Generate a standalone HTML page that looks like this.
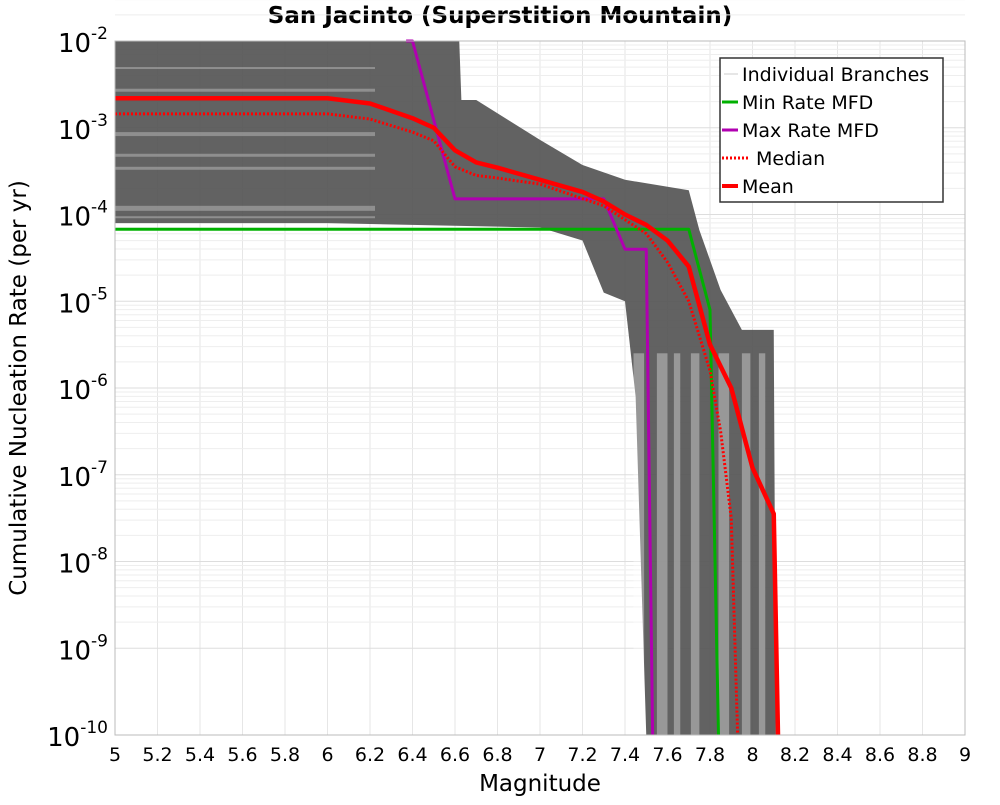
<!DOCTYPE html>
<html><head><meta charset="utf-8"><style>
body{margin:0;background:#fff;font-family:"Liberation Sans","DejaVu Sans",sans-serif}
svg text{font-family:"DejaVu Sans","Liberation Sans",sans-serif}
</style></head><body>
<svg id="chart" width="1000" height="800" xmlns="http://www.w3.org/2000/svg">
<text x="500" y="23" text-anchor="middle" font-size="23" font-weight="bold">San Jacinto (Superstition Mountain)</text>
<g id="grid"></g>
<g id="marks"></g>
<rect x="115" y="41" width="850" height="694" fill="none" stroke="#bbb" stroke-width="1"/>
<g id="ticks"></g>
<text x="540" y="791" text-anchor="middle" font-size="23">Magnitude</text>
<text transform="translate(26,388) rotate(-90)" text-anchor="middle" font-size="23">Cumulative Nucleation Rate (per yr)</text>
<g>
<rect x="720" y="58" width="223" height="144" fill="#fff" stroke="#333" stroke-width="1.5"/>
<line x1="724" y1="74" x2="738" y2="74" stroke="#ccc" stroke-width="1"/>
<text x="742" y="81" font-size="19">Individual Branches</text>
<line x1="722" y1="102" x2="738" y2="102" stroke="#00b000" stroke-width="3"/>
<text x="742" y="109" font-size="19">Min Rate MFD</text>
<line x1="722" y1="130" x2="738" y2="130" stroke="#b000b0" stroke-width="3"/>
<text x="742" y="137" font-size="19">Max Rate MFD</text>
<line x1="722" y1="158" x2="750" y2="158" stroke="#f00" stroke-width="3" stroke-dasharray="2,2"/>
<text x="756" y="165" font-size="19">Median</text>
<line x1="722" y1="186" x2="738" y2="186" stroke="#f00" stroke-width="4"/>
<text x="742" y="193" font-size="19">Mean</text>
</g>
</svg>
<script>
const meanM=[5,6,6.2,6.4,6.5,6.6,6.7,6.8,7.0,7.2,7.3,7.4,7.5,7.6,7.7,7.8,7.9,8.0,8.1,8.12];
const meanLog=[-2.66,-2.66,-2.72,-2.89,-3.0,-3.26,-3.4,-3.46,-3.6,-3.74,-3.85,-4.0,-4.12,-4.3,-4.6,-5.5,-6.0,-6.92,-7.45,-10];
const medM=[5,6,6.2,6.4,6.5,6.6,6.7,6.8,7.0,7.3,7.5,7.6,7.7,7.8,7.85,7.9,7.93];
const medLog=[-2.84,-2.84,-2.9,-3.05,-3.15,-3.45,-3.55,-3.58,-3.65,-3.9,-4.22,-4.55,-5.0,-5.8,-6.5,-7.5,-10];
const minM=[5,7.7,7.8,7.84];
const minLog=[-4.17,-4.17,-5.1,-10];
const maxM=[6.37,6.4,6.6,7.3,7.4,7.5,7.53];
const maxLog=[-2,-2,-3.82,-3.82,-4.4,-4.4,-10];
const envUpM=[5,6.62,6.63,6.7,7.0,7.2,7.4,7.7,7.75,7.85,7.95,8.1,8.11];
const envUpLog=[-2,-2,-2.68,-2.68,-3.14,-3.43,-3.6,-3.72,-4.18,-4.87,-5.33,-5.33,-10];
const envLoM=[7.5,7.45,7.4,7.3,7.2,7.0,6.0,5];
const envLoLog=[-10,-6.1,-5.0,-4.9,-4.3,-4.15,-4.1,-4.1];
const gapM=[7.44,7.55,7.63,7.71,7.84,7.95,8.03];
const gapW=[0.05,0.05,0.03,0.04,0.05,0.04,0.03];
const xTicks=[5,5.2,5.4,5.6,5.8,6,6.2,6.4,6.6,6.8,7,7.2,7.4,7.6,7.8,8,8.2,8.4,8.6,8.8,9];
const yExps=[-2,-3,-4,-5,-6,-7,-8,-9,-10];
const X=m=>115+(m-5)*212.5, Y=l=>41+(-2-l)*86.75;
const NS="http://www.w3.org/2000/svg";
function mk(t,a,p){const e=document.createElementNS(NS,t);for(const k in a)e.setAttribute(k,a[k]);p.appendChild(e);return e;}
const grid=document.getElementById('grid'),marks=document.getElementById('marks'),ticks=document.getElementById('ticks');
xTicks.forEach(m=>{const l=mk('line',{x1:X(m),x2:X(m),y1:41,y2:735,stroke:'#e6e6e6'},grid);


const t=mk('text',{x:X(m),y:761,'text-anchor':'middle','font-size':19},ticks);t.textContent=String(m);

});
yExps.forEach(e=>{for(let k=1;k<10;k++){if(e===-10&&k>1)break;const l=mk('line',{x1:115,x2:965,y1:Y(e+Math.log10(k)),y2:Y(e+Math.log10(k)),stroke:k===1?'#ddd':'#eee'},grid);

}
const t=mk('text',{x:108,y:Y(e)+11,'text-anchor':'end','font-size':26},ticks);


t.textContent='10';const s=mk('tspan',{dy:-13,'font-size':17},t);s.textContent=String(e);});
function pts(ms,ls){return ms.map((m,i)=>X(m)+','+Y(ls[i])).join(' ');}
const env=mk('polygon',{points:pts(envUpM,envUpLog)+' '+pts(envLoM,envLoLog),fill:'#555','fill-opacity':0.92},marks);


gapM.forEach((m,i)=>{const r=mk('rect',{x:X(m),y:Y(-5.6),width:gapW[i]*212.5,height:735-Y(-5.6),fill:'#fff','fill-opacity':0.35},marks);

});
[[-3.05,4],[-3.3,3],[-3.45,3],[-3.9,5],[-4.02,2],[-2.55,3],[-2.3,2]].forEach(s=>{const r=mk('rect',{x:115,y:Y(s[0]),width:260,height:s[1],fill:'#bbb','fill-opacity':0.5},marks);

});
function line(ms,ls,c,w,name,dash){const p=mk('polyline',{points:pts(ms,ls),fill:'none',stroke:c,'stroke-width':w,'stroke-linejoin':'round'},marks);if(dash)p.setAttribute('stroke-dasharray',dash);

}
line(minM,minLog,'#00b000',3,'min-rate-line');
line(maxM,maxLog,'#b000b0',3,'max-rate-line');
line(medM,medLog,'#f00',3,'median-line','2,2');
line(meanM,meanLog,'#f00',4.5,'mean-line');
</script>
</body></html>
